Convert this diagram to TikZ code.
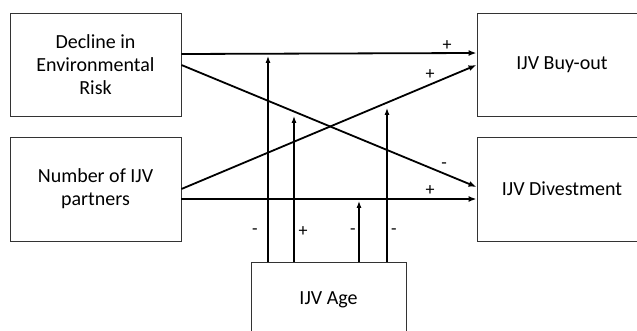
\documentclass[tikz,border=0pt]{standalone}
\usepackage{fontspec}
\setmainfont{Carlito}
\usetikzlibrary{arrows.meta,calc}
\begin{document}
\begin{tikzpicture}[x=1pt,y=-1pt,
  box/.style={draw=black!80,line width=0.9pt,rectangle,inner sep=0pt,align=center,
    font=\fontsize{20}{23}\selectfont},
  mainarrow/.style={line width=1.8pt,-{Latex[length=8pt,width=6pt]}},
  modarrow/.style={line width=1.1pt,-{Latex[length=7pt,width=5pt]}},
  sign/.style={font=\fontsize{18}{18}\selectfont,inner sep=0pt}]
\useasboundingbox (0,0) rectangle (637,331);
\node[box,minimum width=171pt,minimum height=103pt] (A) at (95.5,64.5) {Decline in\\Environmental\\Risk};
\node[box,minimum width=171pt,minimum height=104pt] (B) at (95.5,189) {Number of IJV\\partners};
\node[box,minimum width=170pt,minimum height=103pt] (C) at (562,64.5) {IJV Buy-out};
\node[box,minimum width=170pt,minimum height=104pt] (D) at (562,189) {IJV Divestment};
\node[box,minimum width=155pt,minimum height=76pt] (E) at (328.5,300) {IJV Age};
% main effects
\draw[mainarrow] ([yshift=10.5pt]A.east) -- ([yshift=11.5pt]C.west);
\draw[mainarrow] ([yshift=-0.5pt]A.east) -- ([yshift=2pt]D.west);
\draw[mainarrow] ([yshift=0pt]B.east) -- ([yshift=-0.5pt]C.west);
\draw[mainarrow] ([yshift=-10pt]B.east) -- ([yshift=-10pt]D.west);
% moderating effects
\coordinate (m1) at (268,56);
\coordinate (m2) at (294,116);
\coordinate (m3) at (359,201);
\coordinate (m4) at (387,108);
\draw[modarrow] (E.north -| m1) -- (m1);
\draw[modarrow] (E.north -| m2) -- (m2);
\draw[modarrow] (E.north -| m3) -- (m3);
\draw[modarrow] (E.north -| m4) -- (m4);
% signs
\node[sign] (s1) at (447,46) {+};
\node[sign] (s2) at (444,166) {-};
\node[sign] (s3) at (430,75) {+};
\node[sign] (s4) at (430,191) {+};
\node[sign] (s5) at (255,232) {-};
\node[sign] (s6) at (303,232) {+};
\node[sign] (s7) at (353,232) {-};
\node[sign] (s8) at (394,232) {-};
\end{tikzpicture}
\end{document}
